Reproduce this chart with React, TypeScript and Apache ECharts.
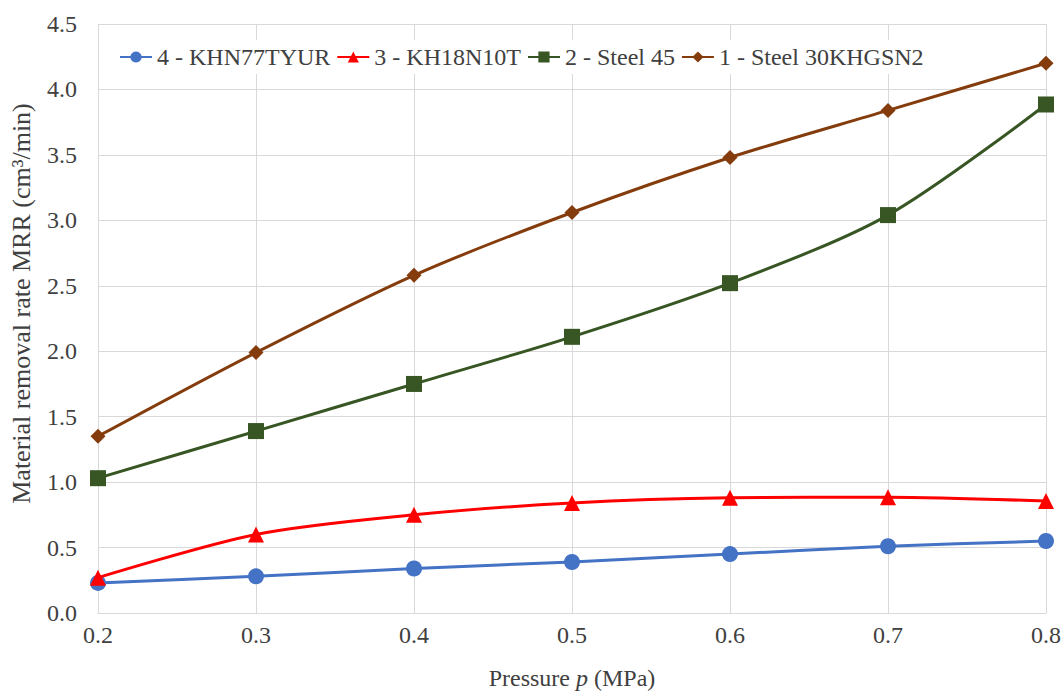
import React, { useEffect, useRef } from "react";
import * as echarts from "echarts";

const pressures = ["0.2", "0.3", "0.4", "0.5", "0.6", "0.7", "0.8"];
const khn77tyur = [0.23, 0.28, 0.34, 0.39, 0.45, 0.51, 0.55];
const kh18n10t = [0.27, 0.6, 0.75, 0.84, 0.88, 0.885, 0.855];
const steel45 = [1.03, 1.39, 1.75, 2.11, 2.52, 3.04, 3.885];
const steel30 = [1.35, 1.99, 2.58, 3.06, 3.48, 3.84, 4.2];

const names = ["4 - KHN77TYUR", "3 - KH18N10T", "2 - Steel 45", "1 - Steel 30KHGSN2"];
const colors = ["#4472C4", "#FF0000", "#375623", "#843C0C"];
const symbols = ["circle", "triangle", "rect", "diamond"];
const sizes = [16, 16, 16, 15];
const seriesData = [khn77tyur, kh18n10t, steel45, steel30];

const FONT = "Liberation Serif";
const TXT = "#404040";

export default function App() {
  const ref = useRef<HTMLDivElement>(null);
  useEffect(() => {
    if (!ref.current) return;
    const chart = echarts.init(ref.current, undefined, { renderer: "svg" });
    chart.setOption({
      animation: false,
      textStyle: { fontFamily: FONT },
      legend: {
        top: 40,
        left: 114,
        itemWidth: 32,
        itemHeight: 14,
        itemGap: 6,
        textStyle: { fontFamily: FONT, fontSize: 24, color: TXT },
        backgroundColor: "#fff",
        data: names,
      },
      grid: {
        left: 98,
        right: 17,
        top: 24,
        bottom: 82,
        containLabel: false,
        outerBoundsMode: "none",
      },
      xAxis: {
        type: "category",
        data: pressures,
        boundaryGap: false,
        name: "{n|Pressure }{i|p}{n| (MPa)}",
        nameLocation: "middle",
        nameGap: 53,
        nameTextStyle: {
          fontFamily: FONT,
          fontSize: 24,
          rich: {
            n: { fontFamily: FONT, fontSize: 24, color: TXT },
            i: { fontFamily: FONT, fontSize: 24, color: TXT, fontStyle: "italic" },
          },
        },
        axisLine: { lineStyle: { color: "#D9D9D9", width: 1 } },
        axisTick: { show: false },
        axisLabel: { fontFamily: FONT, fontSize: 24, color: TXT, margin: 10 },
        splitLine: { show: true, lineStyle: { color: "#D9D9D9", width: 1 } },
      },
      yAxis: {
        type: "value",
        min: 0,
        max: 4.5,
        interval: 0.5,
        name: "Material removal rate MRR (cm³/min)",
        nameLocation: "middle",
        nameGap: 64,
        nameTextStyle: { fontFamily: FONT, fontSize: 26, color: TXT, padding: [0, 0, 0, 30] },
        axisLine: { show: false },
        axisTick: { show: false },
        axisLabel: {
          fontFamily: FONT,
          fontSize: 24,
          color: TXT,
          margin: 21,
          formatter: (v: number) => v.toFixed(1),
        },
        splitLine: { lineStyle: { color: "#D9D9D9", width: 1 } },
      },
      series: names.map((n, i) => ({
        name: n,
        type: "line",
        data: seriesData[i],
        smooth: 0.3,
        symbol: symbols[i],
        symbolSize: sizes[i],
        lineStyle: { color: colors[i], width: 3 },
        itemStyle: { color: colors[i] },
        z: 2 + i,
      })),
    });
    return () => chart.dispose();
  }, []);
  return <div ref={ref} style={{ width: 1063, height: 695, position: "absolute", left: 0, top: 0 }} />;
}
